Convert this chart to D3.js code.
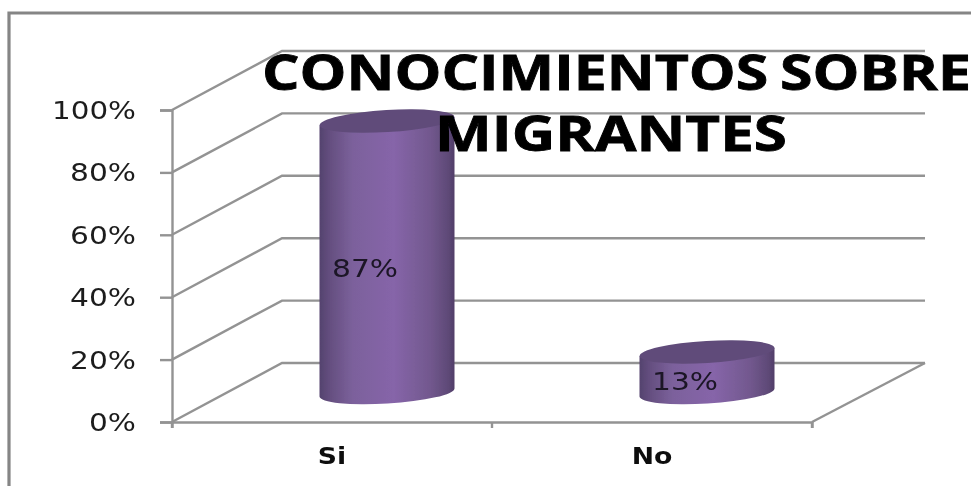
<!DOCTYPE html>
<html><head><meta charset="utf-8">
<script src="https://cdn.jsdelivr.net/npm/d3@7/dist/d3.min.js"></script>
<style>html,body{margin:0;padding:0;background:#fff;overflow:hidden}svg{display:block}</style>
</head><body>
<svg id="c" width="971" height="486"></svg>
<script>
const categories = ["Si", "No"];
const values = [87, 13];
const yTicks = [0, 20, 40, 60, 80, 100];
const titleLines = ["CONOCIMIENTOS SOBRE", "MIGRANTES"];

const svg = d3.select("#c");
const defs = svg.append("defs");
const blur = defs.append("filter").attr("id","soft").attr("x","-5%").attr("y","-5%").attr("width","110%").attr("height","110%");
blur.append("feGaussianBlur").attr("stdDeviation",0.45);
const grad = defs.append("linearGradient").attr("id","body");
[[0,"#54426e"],[0.08,"#654f80"],[0.25,"#7c619c"],[0.55,"#8665a9"],[0.82,"#72588e"],[0.95,"#5f4a78"],[1,"#513e68"]]
  .forEach(([o,c])=>grad.append("stop").attr("offset",o).attr("stop-color",c));

const x = d3.scaleBand().domain(categories).range([172,812]);
const y = d3.scaleLinear().domain([0,100]).range([422,110]);
const depthX = 110, depthY = -59;
const gridCol = "#939393";
const root = svg.append("g").attr("filter","url(#soft)");

// outer frame
root.append("path").attr("d",d3.line()([[971,13],[9,13],[9,486]]))
  .attr("fill","none").attr("stroke","#858585").attr("stroke-width",3.2);

// gridlines: side wall and back wall
const g = root.append("g");
yTicks.forEach(t=>{
  g.append("path").attr("fill","none").attr("stroke",gridCol).attr("stroke-width",2.4)
   .attr("d",d3.line()([[x.range()[0],y(t)],[x.range()[0]+depthX,y(t)+depthY],[x.range()[1]+depthX+3,y(t)+depthY]]));
});
// floor right edge
g.append("path").attr("fill","none").attr("stroke",gridCol).attr("stroke-width",2.4)
 .attr("d",d3.line()([[x.range()[1],y(0)],[x.range()[1]+depthX+3,y(0)+depthY]]));

// axes
const axisY = root.append("g").attr("transform",`translate(${x.range()[0]},0)`)
  .call(d3.axisLeft(y).tickValues(yTicks).tickSize(12).tickFormat(d=>d+"%"));
const axisX = root.append("g").attr("transform",`translate(0,${y(0)})`)
  .call(d3.axisBottom(x).tickValues(d3.range(3)).tickSize(6).tickFormat(()=>""));
axisX.selectAll(".tick").attr("transform",(d,i)=>`translate(${x.range()[0]+i*x.bandwidth()},0)`);
[axisY,axisX].forEach(a=>{
  a.selectAll(".domain").attr("stroke",gridCol).attr("stroke-width",2.4);
  a.selectAll("line").attr("stroke",gridCol).attr("stroke-width",2.4);
});
axisY.selectAll("text").attr("x",-36).attr("dy",0).attr("y",8.5)
  .attr("font-family","'DejaVu Sans'").attr("font-size",25).attr("fill","#1f1f1f")
  .attr("text-anchor","end")
  .attr("textLength",d=>d===100?84:d===0?47:66).attr("lengthAdjust","spacingAndGlyphs");

// cylinders
const rx = 67.5, ry = 11, tilt = -3.5;
const rad = tilt*Math.PI/180, edge = rx*Math.sin(rad);
categories.forEach((c,i)=>{
  const v = values[i];
  const cx = x(c)+x.bandwidth()/2+depthX/2;
  const base = y(0)+depthY/2;
  const top = y(v)+depthY/2;
  const cyl = root.append("g");
  const d = `M${cx-rx},${top-edge} L${cx+rx},${top+edge} L${cx+rx},${base+edge}`
    + ` A${rx},${ry} ${tilt} 0 1 ${cx-rx},${base-edge} Z`;
  cyl.append("path").attr("d",d).attr("fill","url(#body)");
  cyl.append("ellipse").attr("cx",cx).attr("cy",top).attr("rx",rx).attr("ry",ry)
    .attr("transform",`rotate(${tilt} ${cx} ${top})`).attr("fill","#604c7a");
  root.append("text").attr("x",x(c)+x.bandwidth()/2).attr("y",y(v/2)+depthY/2+ (i?18:20))
    .attr("font-family","'DejaVu Sans'").attr("font-size",25).attr("fill","#1c1626")
    .attr("textLength",66).attr("lengthAdjust","spacingAndGlyphs").text(v+"%");
  const lab = root.append("text").attr("x",x(c)+x.bandwidth()/2).attr("y",464).attr("text-anchor","middle")
    .attr("font-family","'DejaVu Sans'").attr("font-weight","bold").attr("font-size",23).attr("fill","#111")
    .text(c);
  lab.attr("textLength",lab.node().getComputedTextLength()*1.16).attr("lengthAdjust","spacingAndGlyphs");
});

// title
[[262,90,709],[435,151,352]].forEach(([tx,ty,tl],i)=>{
  root.append("text").attr("x",tx).attr("y",ty)
    .attr("font-family","'Open Sans'").attr("font-weight","bold").attr("font-size",48).attr("fill","#000")
    .attr("stroke","#000").attr("stroke-width",0.8).attr("word-spacing",-3)
    .attr("textLength",tl).attr("lengthAdjust","spacingAndGlyphs").text(titleLines[i]);
});
</script>
</body></html>
